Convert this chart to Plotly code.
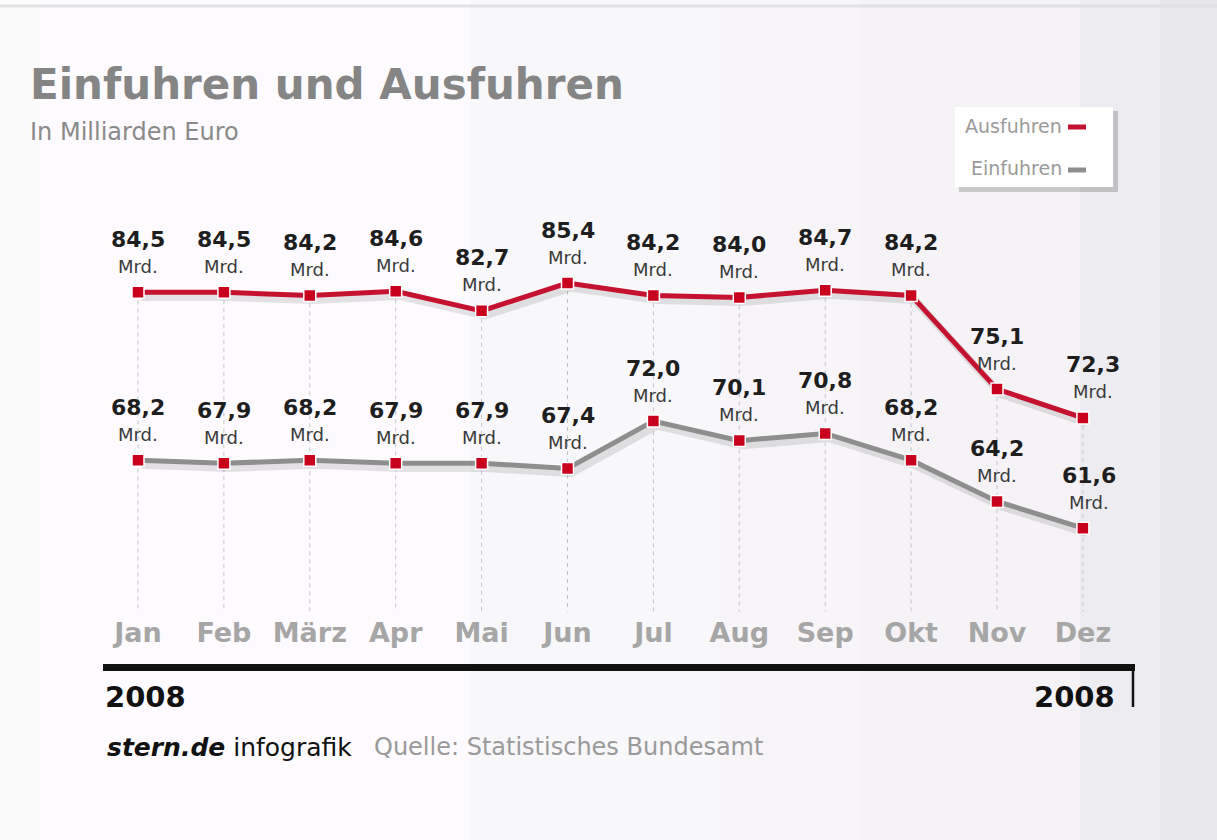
import plotly.graph_objects as go

W, H = 1217, 840

months = ["Jan", "Feb", "März", "Apr", "Mai", "Jun", "Jul", "Aug", "Sep", "Okt", "Nov", "Dez"]
ausfuhren = [84.5, 84.5, 84.2, 84.6, 82.7, 85.4, 84.2, 84.0, 84.7, 84.2, 75.1, 72.3]
einfuhren = [68.2, 67.9, 68.2, 67.9, 67.9, 67.4, 72.0, 70.1, 70.8, 68.2, 64.2, 61.6]
grid_bottom = 53.5

RED = "#c4122f"
GREY_LINE = "#8e8e8e"
FONT = "DejaVu Sans"


def px(x):
    return x / W


def py(y):
    return 1 - y / H


idx = list(range(len(months)))

# axis geometry (pixel calibration)
x0_px, slope_x = 138.0, 85.9
dom = [103 / W, 1135 / W]
xr = [(103 - x0_px) / slope_x, (1135 - x0_px) / slope_x]
ref_v, ref_px, slope_y = 84.5, 292.3, 10.3
yr = [ref_v - (H - ref_px) / slope_y, ref_v + ref_px / slope_y]

fig = go.Figure()

# dashed vertical guides
gx, gy = [], []
for i, v in zip(idx, ausfuhren):
    gx += [i, i, None]
    gy += [v, grid_bottom, None]
fig.add_trace(go.Scatter(x=gx, y=gy, mode="lines", hoverinfo="skip",
                         line=dict(color="#c4c4c4", width=1, dash="4px,4px"), showlegend=False))

# shadows
shift = 0.45
for vals in (ausfuhren, einfuhren):
    fig.add_trace(go.Scatter(x=[i + 0.04 for i in idx], y=[v - shift for v in vals], mode="lines",
                             line=dict(color="rgba(0,0,0,0.10)", width=8), hoverinfo="skip", showlegend=False))

fig.add_trace(go.Scatter(x=idx, y=einfuhren, mode="lines+markers", name="Einfuhren",
                         line=dict(color=GREY_LINE, width=5),
                         marker=dict(symbol="square", size=12, color="#c8001e", line=dict(color="white", width=1.5)),
                         showlegend=False))
fig.add_trace(go.Scatter(x=idx, y=ausfuhren, mode="lines+markers", name="Ausfuhren",
                         line=dict(color=RED, width=5),
                         marker=dict(symbol="square", size=12, color="#c8001e", line=dict(color="white", width=1.5)),
                         showlegend=False))

ann = []
xshift_a = [0, 0, 0, 0, 0, 0, 0, 0, 0, 0, 0, 10]
xshift_e = [0, 0, 0, 0, 0, 0, 0, 0, 0, 0, 0, 6]
for vals, xs in ((ausfuhren, xshift_a), (einfuhren, xshift_e)):
    for i, v in enumerate(vals):
        ann.append(dict(x=i, y=v, xref="x", yref="y", text="<b>" + f"{v:.1f}".replace(".", ",") + "</b>",
                        showarrow=False, yshift=53, xshift=xs[i], yanchor="middle",
                        font=dict(family=FONT, size=22, color="#1e1e1e")))
        ann.append(dict(x=i, y=v, xref="x", yref="y", text="Mrd.", showarrow=False, yshift=26,
                        xshift=xs[i], yanchor="middle",
                        font=dict(family=FONT, size=18, color="#3a3a3a")))

# titles and footer
ann += [
    dict(x=px(28), y=py(85), xref="paper", yref="paper", xanchor="left", yanchor="middle",
         text="<b>Einfuhren und Ausfuhren</b>", showarrow=False,
         font=dict(family=FONT, size=42, color="#858585")),
    dict(x=px(28), y=py(132), xref="paper", yref="paper", xanchor="left", yanchor="middle",
         text="In Milliarden Euro", showarrow=False,
         font=dict(family=FONT, size=24, color="#8a8a8a")),
    dict(x=px(103), y=py(697), xref="paper", yref="paper", xanchor="left", yanchor="middle",
         text="<b>2008</b>", showarrow=False, font=dict(family=FONT, size=29, color="#111111")),
    dict(x=px(1117), y=py(697), xref="paper", yref="paper", xanchor="right", yanchor="middle",
         text="<b>2008</b>", showarrow=False, font=dict(family=FONT, size=29, color="#111111")),
    dict(x=px(105), y=py(747), xref="paper", yref="paper", xanchor="left", yanchor="middle",
         text="<b><i>stern.de</i></b> infografik", showarrow=False,
         font=dict(family=FONT, size=25, color="#111111")),
    dict(x=px(372), y=py(747), xref="paper", yref="paper", xanchor="left", yanchor="middle",
         text="Quelle: Statistisches Bundesamt", showarrow=False,
         font=dict(family=FONT, size=24, color="#9a9a9a")),
    dict(x=px(1064), y=py(126), xref="paper", yref="paper", xanchor="right", yanchor="middle",
         text="Ausfuhren", showarrow=False, font=dict(family=FONT, size=19, color="#9a9a9a")),
    dict(x=px(1064), y=py(168), xref="paper", yref="paper", xanchor="right", yanchor="middle",
         text="Einfuhren", showarrow=False, font=dict(family=FONT, size=19, color="#9a9a9a")),
]

shapes = []
# background bands
bands = [(0, 40, "#fbfbfc"), (40, 470, "#fdfbfd"), (470, 720, "#f8f7f9"), (720, 860, "#f7f5f8"),
         (860, 1080, "#f5f3f6"), (1080, 1160, "#ededf1"), (1160, 1217, "#e7e7eb")]
for a, b, c in bands:
    shapes.append(dict(type="rect", xref="paper", yref="paper", x0=px(a), x1=px(b), y0=0, y1=1,
                       fillcolor=c, line=dict(width=0), layer="below"))
shapes.append(dict(type="line", xref="paper", yref="paper", x0=0, x1=1, y0=py(6), y1=py(6),
                   line=dict(color="#e2e2e6", width=3), layer="below"))
# legend box
shapes.append(dict(type="rect", xref="paper", yref="paper", x0=px(959), x1=px(1118), y0=py(192), y1=py(111),
                   fillcolor="rgba(0,0,0,0.18)", line=dict(width=0)))
shapes.append(dict(type="rect", xref="paper", yref="paper", x0=px(955), x1=px(1113), y0=py(187), y1=py(107),
                   fillcolor="white", line=dict(width=0)))
shapes.append(dict(type="line", xref="paper", yref="paper", x0=px(1068), x1=px(1086), y0=py(127), y1=py(127),
                   line=dict(color=RED, width=5)))
shapes.append(dict(type="line", xref="paper", yref="paper", x0=px(1068), x1=px(1086), y0=py(170), y1=py(170),
                   line=dict(color=GREY_LINE, width=5)))
# end tick of timeline
shapes.append(dict(type="line", xref="paper", yref="paper", x0=px(1133), x1=px(1133), y0=py(664), y1=py(707),
                   line=dict(color="#111111", width=2.5)))

fig.update_layout(
    width=W, height=H, margin=dict(l=0, r=0, t=0, b=0),
    paper_bgcolor="#fcfbfd", plot_bgcolor="rgba(0,0,0,0)",
    annotations=ann, shapes=shapes, showlegend=False,
    xaxis=dict(domain=dom, range=xr, anchor="free", position=py(667), side="top",
               tickvals=idx, ticktext=["<b>" + m + "</b>" for m in months],
               tickfont=dict(family=FONT, size=27, color="#a6a6a6"),
               ticks="outside", ticklen=11, tickcolor="rgba(0,0,0,0)",
               showline=True, linewidth=7, linecolor="#111111",
               showgrid=False, zeroline=False, fixedrange=True),
    yaxis=dict(domain=[0, 1], range=yr, visible=False, fixedrange=True),
)

fig.write_html("out.html")
